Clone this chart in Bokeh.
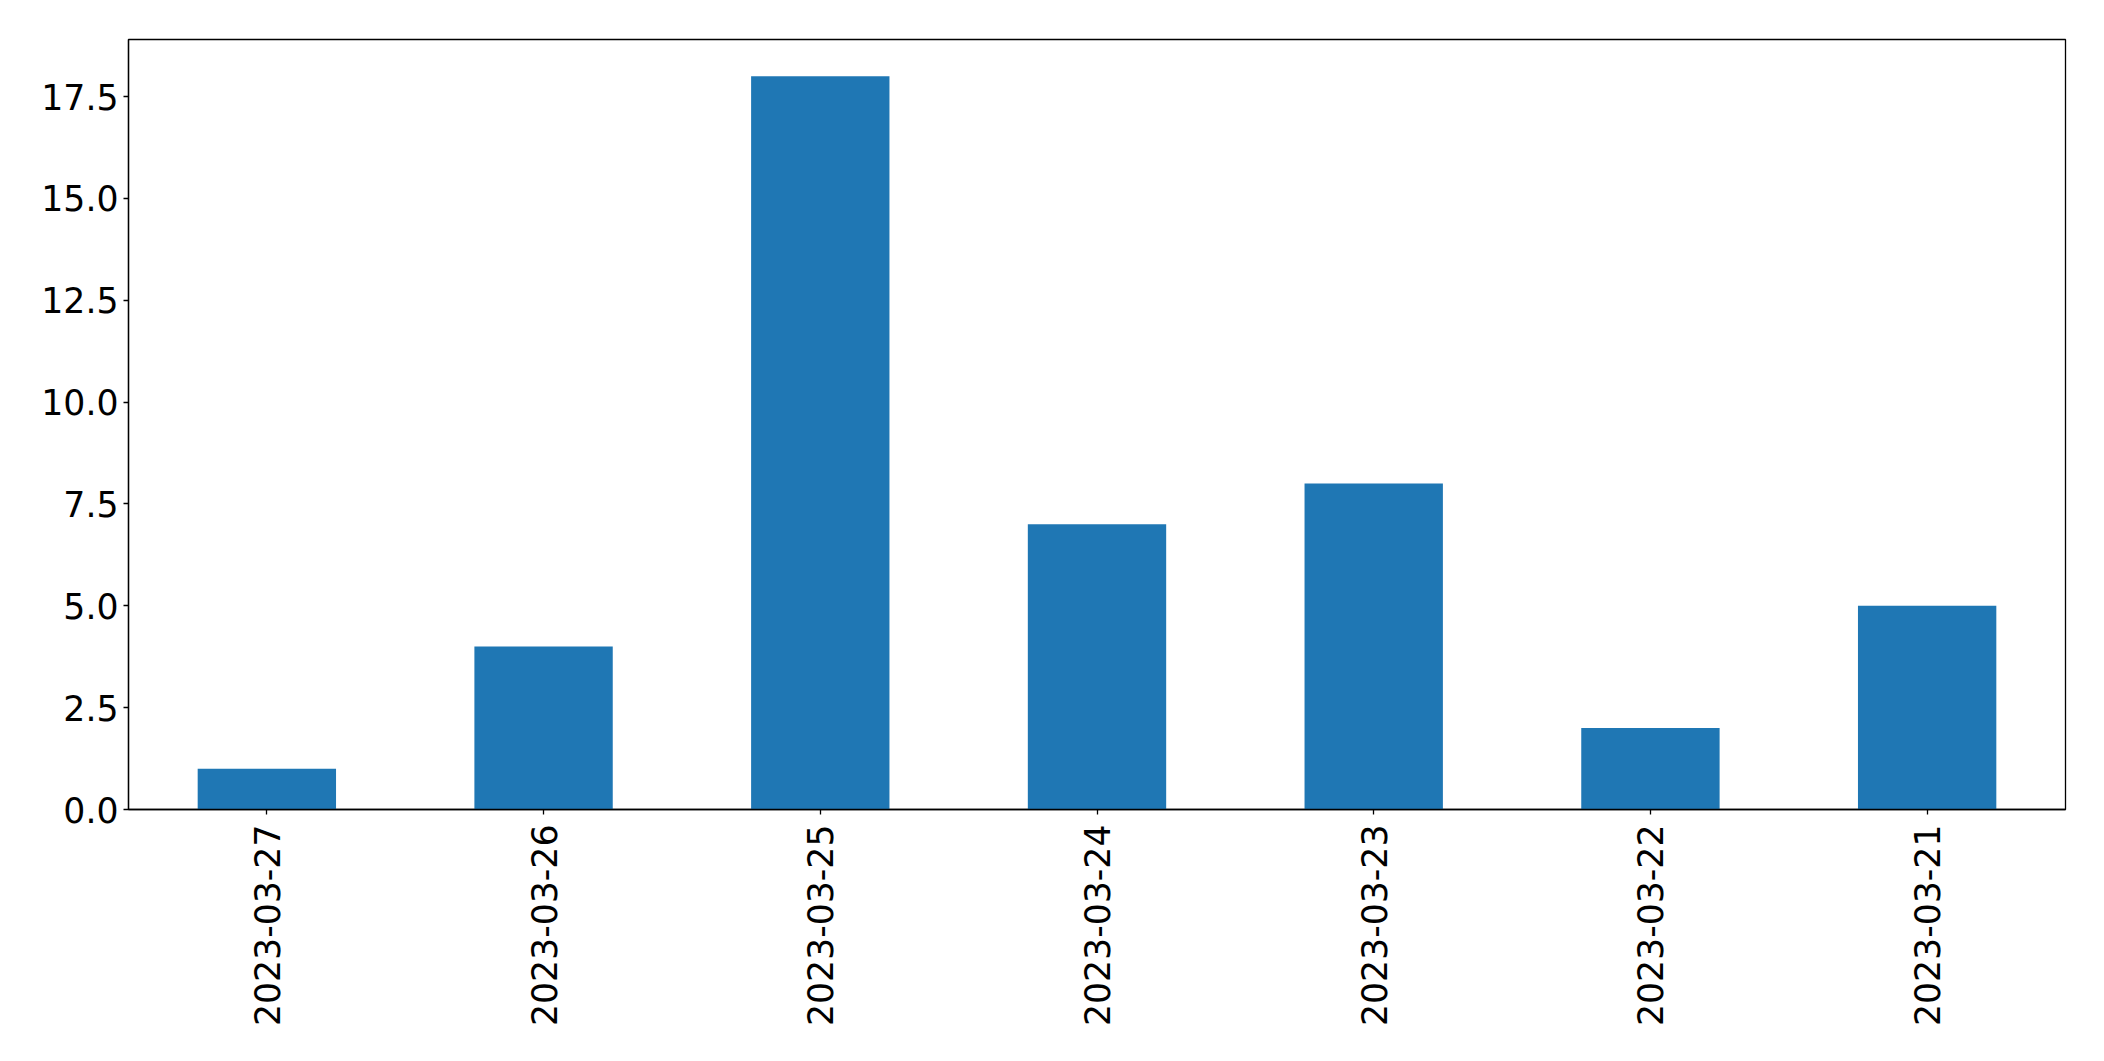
from bokeh.plotting import figure
from bokeh.models import FactorRange, Range1d, FixedTicker, PrintfTickFormatter, ColumnDataSource
from bokeh.embed import file_html
from bokeh.resources import INLINE
import math

dates = ["2023-03-27", "2023-03-26", "2023-03-25", "2023-03-24", "2023-03-23", "2023-03-22", "2023-03-21"]
counts = [1, 4, 18, 7, 8, 2, 5]
y_ticks = [0, 2.5, 5, 7.5, 10, 12.5, 15, 17.5]

src = ColumnDataSource(dict(x=dates, top=counts))

p = figure(width=2088, height=1040, output_backend="svg", toolbar_location=None,
           x_range=FactorRange(factors=dates, range_padding=0),
           y_range=Range1d(0, 18.9),
           min_border_left=128, min_border_right=23, min_border_top=39, min_border_bottom=231)

p.vbar(x="x", top="top", width=0.5, bottom=0, source=src, color="#1f77b4", line_color=None)

p.outline_line_color = "black"
p.outline_line_width = 1.3
p.xgrid.visible = False
p.ygrid.visible = False

for ax in (p.xaxis[0], p.yaxis[0]):
    ax.axis_line_color = "black"
    ax.axis_line_width = 1.3
    ax.major_tick_in = 0
    ax.major_tick_out = 5
    ax.major_tick_line_width = 1.3
    ax.minor_tick_line_color = None
    ax.major_label_text_font = "DejaVu Sans"
    ax.major_label_text_font_size = "34.7px"
    ax.major_label_text_color = "black"

p.yaxis[0].ticker = FixedTicker(ticks=y_ticks)
p.yaxis[0].formatter = PrintfTickFormatter(format="%.1f")
p.yaxis[0].major_label_standoff = 5
p.xaxis[0].major_label_orientation = math.pi / 2
p.xaxis[0].major_label_standoff = 10

open("out.html", "w").write(file_html(p, INLINE))
